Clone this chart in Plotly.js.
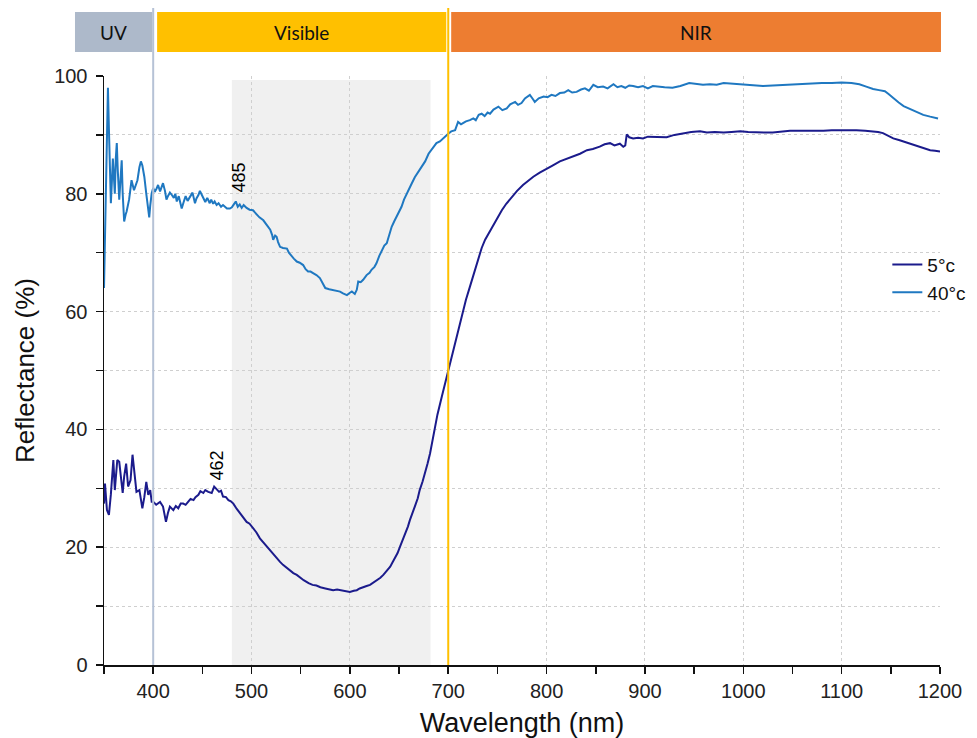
<!DOCTYPE html>
<html>
<head>
<meta charset="utf-8">
<script src="https://cdn.plot.ly/plotly-3.0.1.min.js"></script>
<style>html,body{margin:0;padding:0;background:#fff;}#chart{width:977px;height:738px;}</style>
</head>
<body>
<div id="chart"></div>
<script>
// ---- data ----
var wl5 = [350,351,353,355,357,358,359.5,361,362,363.5,365.5,367,369,370.5,372.5,374.5,377,379,381,383,386,389,391,393,395,397,398.5,400,403,407,410,413,415,417,420.5,423,425.5,428,430.5,433,435.5,438,441,443,446,448,451,453,456,459.5,462,465,467,469,471,474,476.5,479,481.5,485,488,491,495,498,502,505,508.5,512,515.5,519,522,525,529,532,536,539,542.5,546,549,553,558,562,566,570,575,579,583,587,592,596,600,604,607,610,614,617,620.5,624,627,631,634,638,641,643,646,648.5,651,654,656,659,661,664,666,669,671,674,676.5,679,681.5,685,689,693.5,697,700,703,707,710,714,718,722,726,730.5,734,737.5,742,746,750,754.5,759,764.5,770,776,781,786.5,793,800,806,813.5,820,827,834,841,847,854,859,864.5,869,874.5,878,880,881.5,884,888,893,898,903,908.5,915,922,930,939,947,956,963,971,980,988,997,1005,1014,1022,1030,1039,1047.5,1056,1064.5,1073,1081.5,1090,1098,1107,1115,1124,1132,1137,1142,1147,1152.5,1159,1166,1173,1180,1185,1190,1195,1200];
var r5 = [27.4,30.8,26.3,25.5,29,30.8,34.8,29.7,32,34.8,34.5,32,29.2,32,34.2,30.3,31.4,35.7,32,29.4,29.7,26.6,28.5,31.1,28.9,29.7,27.7,27.7,27.2,27.7,26.9,24.3,25.8,26.9,26.3,27,26.6,27.4,27.4,27.2,27.7,28.2,28,28.5,28.9,29.5,29.2,29.7,29.4,29.2,30.3,29.8,29.4,29.6,28.6,28.5,28,27.8,27.4,26.5,25.8,25.2,24.3,24,23.2,22.5,21.5,20.8,20.1,19.3,18.7,18.2,17.5,17,16.4,16,15.6,15.3,14.9,14.4,13.9,13.6,13.5,13.2,13,12.8,12.7,12.8,12.6,12.5,12.4,12.6,12.7,13,13.3,13.4,13.6,14,14.4,14.8,15.3,16,16.7,17.3,18.1,19,20.1,21.3,22.4,23.5,24.6,25.8,26.9,28.3,29.7,31.2,32.5,34.2,35.9,39,42.5,45.6,48,50.1,52,54.6,57,59.7,62,64.2,66.5,69,70.8,72.2,73.5,74.7,76,77.2,78.3,79.5,80.5,81.5,82.2,82.9,83.6,84.3,84.8,85.5,85.9,86.3,86.8,87.4,87.6,88,88.4,88.6,88.2,88.5,88,88.2,90.1,89.6,89.4,89.5,89.4,89.7,89.7,89.6,89.6,90,90.3,90.5,90.6,90.4,90.5,90.4,90.5,90.6,90.5,90.4,90.4,90.4,90.6,90.7,90.7,90.7,90.6,90.7,90.8,90.8,90.9,90.8,90.7,90.6,90.5,90.3,89.9,89.4,89.1,88.7,88.3,88,87.7,87.4,87.3,87.2];

var wl40 = [350,351,352,353,354,355,356,357,358,359,360,361,362,363,364,365.5,367,368,369,370.5,372,373,375.5,378,380.5,382,384,386,387.5,389,391,393,395,396,397,398.5,400,401.5,403.5,405,407,408.5,410,412,413.5,415,417,419,421,422.5,424,426,428,429,431,433,435,437.5,440,442.5,444,446,447.5,449.5,451,453,455,457.5,459,461,462.5,464.5,466.5,469,471,473,475,478,480,482,484,486,488,490,492,495,498,501.5,505,508,512,515,519,521,522,524,525.5,527,529,532,536,538,541,543,546,549,552.5,555,557.5,560,563,566,569.5,572,575,579,583,586,590,593,597,600,602,605,607,608.5,611,613.5,617,620,622,625,627,630,632.5,635,637.5,640,642.5,645,647.5,650,652.5,655,658,660,663,666,669.5,673,676.5,680,685,688,691.5,695,700,703,707,710,713,715,718,722,725.5,728,731,734,737,740,742.5,746,751,755,759.5,763,768,771,774.5,778,783,786,788,792,797,801,805,809,813.5,818,822,826,830.5,835,839,843,847.5,852,857.5,862,868,872,876,880,884,888,893,898,903,908,912,920,928,936,945,952,959,966,973,980,988,997,1005,1012,1020,1030,1040,1050,1060,1070,1080,1090,1100,1110,1118,1125,1132,1138,1144,1148,1152.5,1158,1163,1168,1173,1178,1183,1190,1198];
var r40 = [64,74,84,93,98,91,81,78.4,82,86,83,80,86,88.6,84,79,83,85.7,80,75.3,76.5,77,79,82.3,80.6,81.5,82.3,84.5,85.5,84.8,82.9,80,77,76,78,80.1,81,80.3,80.9,81.5,80.4,81.2,81.8,80.5,79,79.6,80.2,79.8,79.3,80,78.7,79.6,78,77.5,78.6,79.6,78.8,79.5,80.2,78.4,79.2,79.8,80.5,79.8,79.2,78.6,79.3,78.4,79,78.3,78.7,78.1,78.4,77.8,78.1,77.8,77.5,77.5,77.7,78.2,78.7,77.8,78.2,77.6,78.1,77.6,77.3,77.2,76.6,76,75.5,74.8,73.9,73,72.2,72.9,72.7,71.8,71,70.8,70.7,70,69.3,69,68.5,68.3,67.9,67.2,66.8,66.8,66.5,66.2,65.7,65,64,63.8,63.7,63.5,63.4,63.1,62.8,63.2,63.4,63,63.7,65.1,65,65.4,66.2,66.6,67.1,67.6,68.2,69.5,70.5,71.2,71.6,73,74.4,75.3,76.1,77,77.8,79,80.1,81,81.8,82.8,83.7,84.5,85.5,86.8,88,88.6,88.9,89.5,90.2,90.6,90.8,92.2,91.8,92,92.3,92.5,92.8,92.5,93.4,93.6,93.2,93.8,93.6,94.3,94.8,94.2,94.5,95.2,95.6,95.1,95.4,96.2,96.8,96.1,95.6,96.2,96.5,96.4,96.8,96.6,97.1,97.2,97.6,97.2,97.3,97.7,97.9,97.5,98.5,98.1,98.2,97.9,98.6,98.1,98.3,98,98.4,98.3,98.1,98.3,97.9,98.3,98.2,98.1,98,98.3,98.8,98.6,98.5,98.6,98.5,98.8,98.7,98.6,98.4,98.3,98.3,98.4,98.5,98.6,98.6,98.7,98.8,98.8,98.9,98.8,98.6,98.2,97.8,97.6,97.4,96.9,96.2,95.5,94.9,94.5,94.2,93.8,93.4,93.1,92.8];

var seriesNames = ['5°c', '40°c'];
var seriesColors = ['#1b1b8c', '#1f78c1'];
var xRange = [350, 1200];
var yRange = [0, 100];
var xTickVals = [400, 500, 600, 700, 800, 900, 1000, 1100, 1200];
var yTickVals = [0, 20, 40, 60, 80, 100];

var bandNames = ['UV', 'Visible', 'NIR'];
var bandStart = [320.5, 404, 703];
var bandEnd = [399, 698, 1201];
var bandColors = ['#adb9ca', '#ffc000', '#ed7d31'];

var peakLabels = ['485', '462'];
var peakX = [485, 462];
var peakY = [82.8, 33.8];

function xp(nm) { return (nm - xRange[0]) / (xRange[1] - xRange[0]); }

var traces = [
  {x: wl5, y: r5, name: seriesNames[0], type: 'scatter', mode: 'lines', line: {color: seriesColors[0], width: 2}},
  {x: wl40, y: r40, name: seriesNames[1], type: 'scatter', mode: 'lines', line: {color: seriesColors[1], width: 2}}
];

var shapes = [
  {type: 'rect', xref: 'x', yref: 'y', x0: 480, x1: 682, y0: 0, y1: 99.3, fillcolor: '#f0f0f0', line: {width: 0}, layer: 'below'},
  {type: 'line', xref: 'x', yref: 'paper', x0: 400, x1: 400, y0: 0, y1: 1.1154, line: {color: '#b6c2d6', width: 2}, layer: 'above'},
  {type: 'line', xref: 'x', yref: 'paper', x0: 700, x1: 700, y0: 0, y1: 1.1154, line: {color: '#ffc000', width: 2}, layer: 'above'}
];
var annotations = [];
for (var i = 0; i < bandNames.length; i++) {
  shapes.push({type: 'rect', xref: 'paper', yref: 'paper', x0: xp(bandStart[i]), x1: xp(bandEnd[i]), y0: 1.0407, y1: 1.1087, fillcolor: bandColors[i], line: {width: 0}});
  annotations.push({xref: 'paper', yref: 'paper', x: (xp(bandStart[i]) + xp(bandEnd[i])) / 2, y: 1.0747, text: bandNames[i], showarrow: false, xanchor: 'center', yanchor: 'middle', font: {family: 'Lato, sans-serif', size: 19, color: '#111'}});
}
for (var j = 0; j < peakLabels.length; j++) {
  annotations.push({xref: 'x', yref: 'y', x: peakX[j], y: peakY[j], text: peakLabels[j], showarrow: false, textangle: -90, xshift: 2.5, font: {family: 'Liberation Sans, Arial, sans-serif', size: 18, color: '#000'}});
}

var axisFont = {family: 'Liberation Sans, Arial, sans-serif', size: 20, color: '#222'};
var layout = {
  width: 977, height: 738,
  margin: {l: 104, r: 37, t: 76, b: 73, autoexpand: false},
  paper_bgcolor: '#fff', plot_bgcolor: 'rgba(0,0,0,0)',
  showlegend: true,
  legend: {x: 0.937, y: 0.712, xanchor: 'left', yanchor: 'top', bgcolor: 'rgba(0,0,0,0)', font: {family: 'Liberation Sans, Arial, sans-serif', size: 19, color: '#111'}, tracegroupgap: 0},
  xaxis: {
    range: xRange, tickmode: 'array', tickvals: xTickVals,
    showline: true, linecolor: '#111', linewidth: 1.5,
    ticks: 'outside', ticklen: 7, tickwidth: 1.5, tickcolor: '#111',
    showgrid: true, gridcolor: '#cfcfcf', griddash: 'dot', gridwidth: 1,
    zeroline: false, tickfont: axisFont,
    minor: {tickmode: 'linear', tick0: 350, dtick: 50, ticks: 'outside', ticklen: 7, tickwidth: 1.5, tickcolor: '#111', showgrid: false},
    title: {text: 'Wavelength (nm)', font: {family: 'Liberation Sans, Arial, sans-serif', size: 27, color: '#111'}, standoff: 12}
  },
  yaxis: {
    range: yRange, tickmode: 'array', tickvals: yTickVals,
    showline: true, linecolor: '#111', linewidth: 1.5,
    ticks: 'outside', ticklen: 7, tickwidth: 1.5, tickcolor: '#111',
    showgrid: true, gridcolor: '#cfcfcf', griddash: 'dot', gridwidth: 1,
    zeroline: false, tickfont: axisFont, ticklabelstandoff: 4,
    minor: {tickmode: 'linear', tick0: 0, dtick: 10, ticks: 'outside', ticklen: 7, tickwidth: 1.5, tickcolor: '#111', showgrid: true, gridcolor: '#cfcfcf', griddash: 'dot', gridwidth: 1},
    title: {text: 'Reflectance (%)', font: {family: 'Liberation Sans, Arial, sans-serif', size: 26, color: '#111'}, standoff: 12}
  },
  shapes: shapes,
  annotations: annotations
};

Plotly.newPlot('chart', traces, layout, {displayModeBar: false, staticPlot: true});
</script>
</body>
</html>
